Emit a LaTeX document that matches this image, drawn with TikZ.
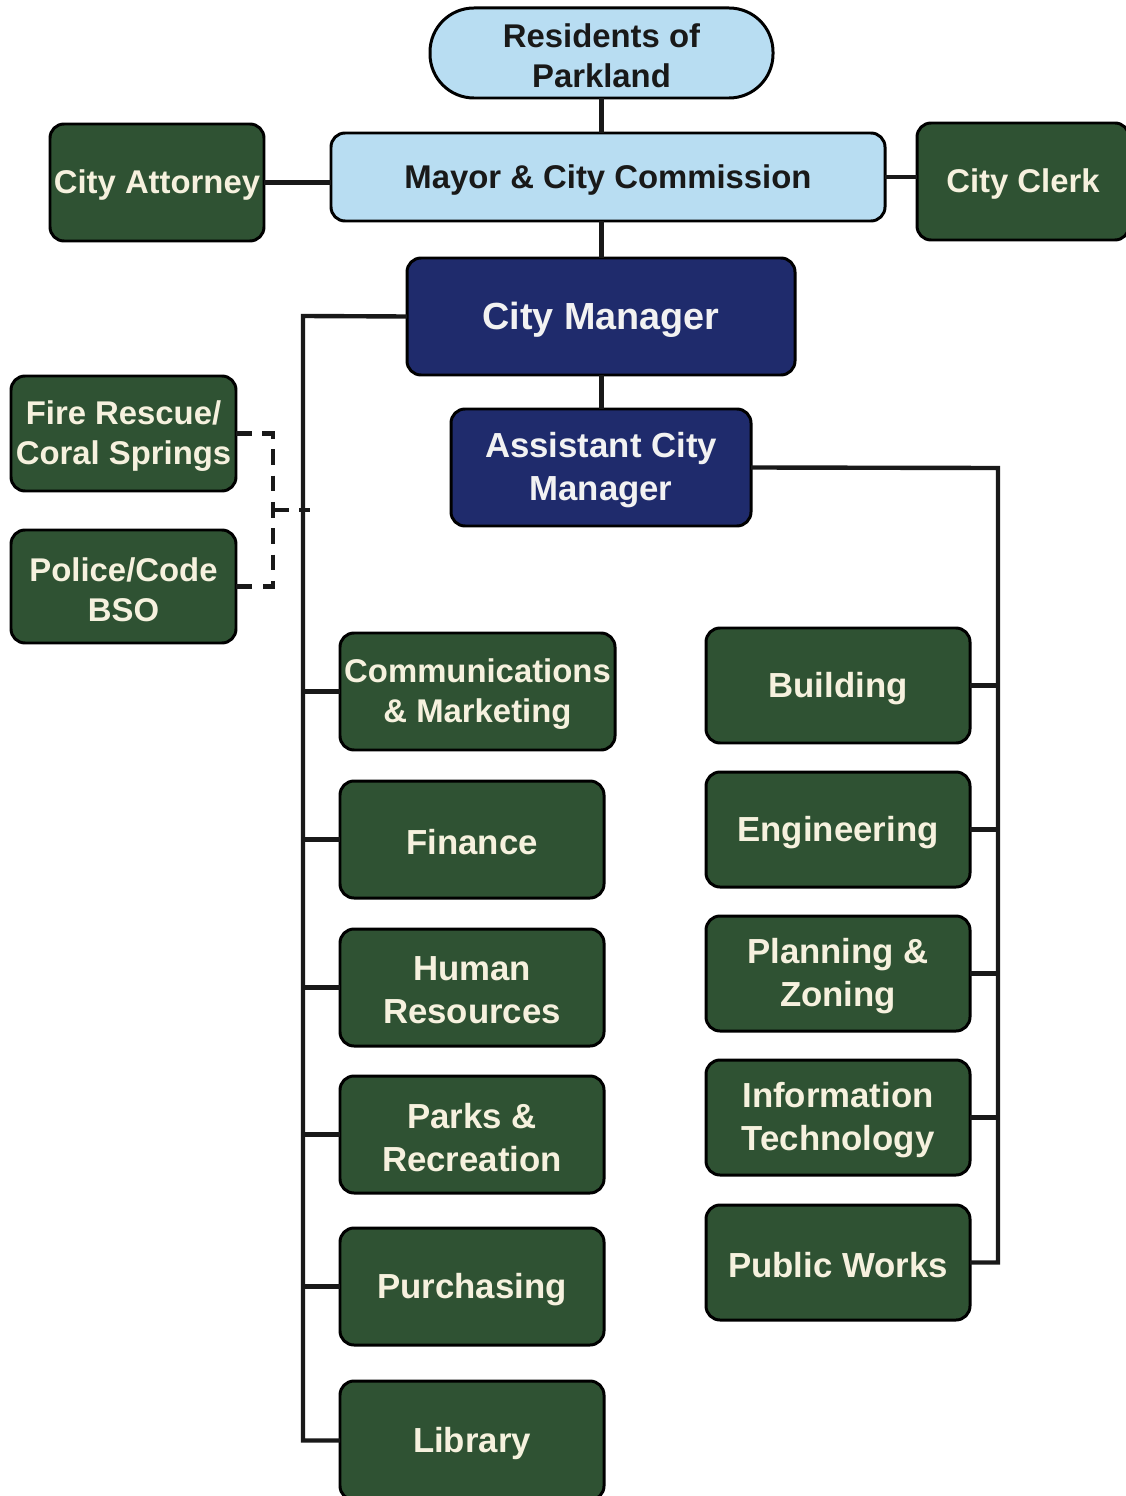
\documentclass[tikz,border=0pt]{standalone}
\usepackage{fontspec}
\setmainfont{Liberation Sans}
\begin{document}
\definecolor{skyfill}{HTML}{B8DDF2}
\definecolor{navyfill}{HTML}{1F2B6C}
\definecolor{greenfill}{HTML}{2F5233}
\definecolor{creamtext}{HTML}{F6F1DE}
% one unit = one pixel of the chart grid, y grows downwards
\begin{tikzpicture}[x=0.02cm,y=-0.02cm,
  basebox/.style={draw=black,line width=1.7pt,rounded corners=8pt,align=center,
    inner sep=0pt,outer sep=0pt,font=\bfseries},
  bluebox/.style={basebox,fill=skyfill,text=black!90,font=\bfseries\fontsize{18.7}{22.7}\selectfont},
  navybox/.style={basebox,fill=navyfill,text=white!95!black,font=\bfseries\fontsize{19.8}{24.4}\selectfont},
  greenbox/.style={basebox,fill=greenfill,text=creamtext,font=\bfseries\fontsize{19.8}{24.4}\selectfont},
  smallgreen/.style={greenbox,font=\bfseries\fontsize{18.7}{22.7}\selectfont},
  bigtext/.style={font=\bfseries\fontsize{21.5}{26}\selectfont},
  link/.style={line width=2.5pt,black!90},
  dotlink/.style={line width=2.6pt,black!90,dash pattern=on 9pt off 6pt}]
\useasboundingbox (0,0) rectangle (1125,1496);
\fill[white] (0,0) rectangle (1125,1496);
% box: name, x1, y1, x2, y2, style, text (label set a little below the middle)
\newcommand\orgbox[7]{%
  \node[#6,minimum width={(#4-#2)*0.02cm},minimum height={(#5-#3)*0.02cm}] (#1) at ({(#2+#4)/2},{(#3+#5)/2}) {};
  \node[#6,draw=none,fill=none] at ({(#2+#4)/2},{(#3+#5)/2+3}) {#7};}

\orgbox{res}{430}{8}{773}{98}{bluebox,rounded corners=25pt}{Residents of\\Parkland}
\orgbox{mayor}{331}{133}{885}{221}{bluebox}{Mayor \& City Commission}
\orgbox{att}{50}{124}{264}{241}{smallgreen}{City Attorney}
\orgbox{clerk}{917}{123}{1129}{240}{smallgreen}{City Clerk}
\orgbox{cm}{407}{258}{795}{375}{navybox,bigtext}{City Manager}
\orgbox{acm}{451}{409}{751}{526}{navybox}{Assistant City\\Manager}
\orgbox{fire}{11}{376}{236}{491}{smallgreen}{Fire Rescue/\\Coral Springs}
\orgbox{police}{11}{530}{236}{643}{smallgreen}{Police/Code\\BSO}

\orgbox{comm}{340}{633}{615}{750}{smallgreen}{Communications\\\& Marketing}
\orgbox{fin}{340}{781}{604}{898}{greenbox}{Finance}
\orgbox{hr}{340}{929}{604}{1046}{greenbox}{Human\\Resources}
\orgbox{parks}{340}{1076}{604}{1193}{greenbox}{Parks \&\\Recreation}
\orgbox{purch}{340}{1228}{604}{1345}{greenbox}{Purchasing}
\orgbox{lib}{340}{1381}{604}{1500}{greenbox}{Library}

\orgbox{bld}{706}{628}{970}{743}{greenbox}{Building}
\orgbox{eng}{706}{772}{970}{887}{greenbox}{Engineering}
\orgbox{plan}{706}{916}{970}{1031}{greenbox}{Planning \&\\Zoning}
\orgbox{it}{706}{1060}{970}{1175}{greenbox}{Information\\Technology}
\orgbox{pw}{706}{1205}{970}{1320}{greenbox}{Public Works}

% main chain of command
\draw[link] (res.south) -- (res.south |- mayor.north);
\draw[link] (res.south |- mayor.south) -- (res.south |- cm.north);
\draw[link] (res.south |- cm.south) -- (res.south |- acm.north);
\draw[link] (att.east) -- (att.east -| mayor.west);
\draw[link] (mayor.east) -- (mayor.east -| clerk.west);

% city manager trunk
\coordinate (lt) at (303,316);
\draw[link] (cm.west) -- (lt) |- (lib.west);
\foreach \d in {comm,fin,hr,parks,purch}
  \draw[link] (\d.west) -- (\d.west -| lt);

% assistant city manager trunk
\coordinate (rt) at (998,468);
\draw[link] (acm.east) -- (rt) |- (pw.east);
\foreach \d in {bld,eng,plan,it}
  \draw[link] (\d.east) -- (\d.east -| rt);

% contracted services
\draw[dotlink] (fire.east) -- ++(37,0) coordinate (dk) |- (police.east);
\coordinate (dj) at (310,510);
\draw[dotlink] (dk |- dj) -- (dj);
\end{tikzpicture}
\end{document}
